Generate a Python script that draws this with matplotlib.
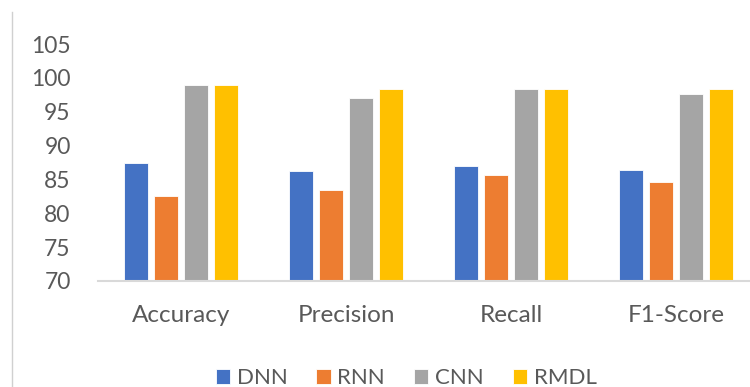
import numpy as np
import matplotlib
matplotlib.use('Agg')
import matplotlib.pyplot as plt
from matplotlib.lines import Line2D

plt.rcParams['font.family'] = ['Lato', 'DejaVu Sans']

metrics = ['Accuracy', 'Precision', 'Recall', 'F1-Score']
models = ['DNN', 'RNN', 'CNN', 'RMDL']
dnn = [87.5, 86.2, 87.0, 86.4]
rnn = [82.5, 83.4, 85.7, 84.6]
cnn = [99.0, 97.1, 98.3, 97.6]
rmdl = [99.0, 98.3, 98.3, 98.3]
yticks = [70, 75, 80, 85, 90, 95, 100, 105]

colors = ['#4472C4', '#ED7D31', '#A5A5A5', '#FFC000']
grey = '#595959'

fig = plt.figure(figsize=(7.5, 3.87), dpi=100)
ax = fig.add_axes([98.5/750, 0.274, 660/750, 0.612])

x = np.arange(len(metrics))
w = 0.14
step = 0.182
for i, (vals, c, name) in enumerate(zip([dnn, rnn, cnn, rmdl], colors, models)):
    ax.bar(x + (i - 1.5)*step, np.array(vals) - 70, bottom=70, width=w,
           color=c, edgecolor='white', linewidth=0.6, label=name)

ax.set_xlim(-0.5, len(metrics) - 0.5)
ax.set_ylim(70, 105)
ax.set_yticks(yticks)
ax.set_yticklabels([str(t) for t in yticks], fontsize=16.5, color=grey)
ax.set_xticks(x)
ax.set_xticklabels(metrics, fontsize=17.5, color=grey)
ax.tick_params(axis='both', length=0)
ax.tick_params(axis='y', pad=20)
ax.tick_params(axis='x', pad=17)
for s in ['top', 'right', 'left']:
    ax.spines[s].set_visible(False)
ax.spines['bottom'].set_color('#d9d9d9')
ax.spines['bottom'].set_linewidth(1.5)

leg = fig.legend(loc='center', bbox_to_anchor=(406/750, 1 - 378/387), ncol=4,
                 frameon=False, fontsize=16, handlelength=0.65, handleheight=0.65,
                 handletextpad=0.3, columnspacing=1.3)
for t in leg.get_texts():
    t.set_color(grey)

# thin border on the left of the chart area
fig.add_artist(Line2D([12/750, 12/750], [0, 1 - 12/387], color='#d0d0d0', linewidth=1))

fig.savefig('out.png', dpi=100)
